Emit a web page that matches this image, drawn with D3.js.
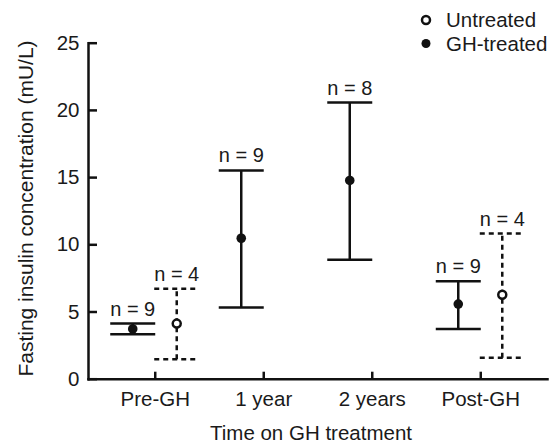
<!DOCTYPE html>
<meta charset="utf-8">
<style>
    body { margin: 0; background: #fff; }
    text { font-family: "Liberation Sans", Arial, sans-serif; fill: #1a1a1a; }
    .axis path, .axis line { stroke: #111; stroke-width: 2.5px; }
    .axis text { font-size: 20.5px; }
    .bar { stroke: #111; stroke-width: 2.5px; fill: none; }
    .dashed { stroke-dasharray: 5,4; }
</style>
<svg width="558" height="446"></svg>
<script src="https://cdn.jsdelivr.net/npm/d3@7"></script>
<script>

    // data
    var categories = ["Pre-GH", "1 year", "2 years", "Post-GH"];

    var ghCats = ["Pre-GH", "1 year", "2 years", "Post-GH"],
        ghMean = [3.7, 10.45, 14.75, 5.55],
        ghLow  = [3.3, 5.3, 8.85, 3.7],
        ghHigh = [4.1, 15.5, 20.55, 7.25],
        ghN    = [9, 9, 8, 9];

    var untCats = ["Pre-GH", "Post-GH"],
        untMean = [4.1, 6.25],
        untLow  = [1.45, 1.55],
        untHigh = [6.7, 10.8],
        untN    = [4, 4];

    var yTicks = [0, 5, 10, 15, 20, 25];

    var svg = d3.select("svg"),
        plotLeft = 88, plotRight = 547, plotTop = 42.7, plotBottom = 378.7;

    var x = d3.scalePoint().domain(categories).range([plotLeft, plotRight]).padding(0.615),
        y = d3.scaleLinear().domain([0, 25]).range([plotBottom, plotTop]),
        offset = d3.scalePoint().domain(["gh", "untreated"]).range([-22, 22]);

    var capHalf = 22.5;

    // axes
    svg.append("g")
        .attr("class", "axis axis--x")
        .attr("transform", "translate(0," + plotBottom + ")")
        .call(d3.axisBottom(x).tickSizeInner(-7).tickSizeOuter(0).tickPadding(13));

    svg.append("g")
        .attr("class", "axis axis--y")
        .attr("transform", "translate(" + plotLeft + ",0)")
        .call(d3.axisLeft(y).tickValues(yTicks).tickSizeInner(-9).tickSizeOuter(0).tickPadding(8.5));

    svg.selectAll(".axis path").attr("stroke-linecap", "square");

    // axis titles
    svg.append("text")
        .attr("x", 311)
        .attr("y", 440)
        .attr("text-anchor", "middle")
        .style("font-size", "20.5px")
        .text("Time on GH treatment");

    svg.append("text")
        .attr("transform", "translate(33,208.5) rotate(-90)")
        .attr("text-anchor", "middle")
        .style("font-size", "21px")
        .text("Fasting insulin concentration (mU/L)");

    var gh = ghCats.map(function(c, i) {
        return {cat: c, mean: ghMean[i], low: ghLow[i], high: ghHigh[i], n: ghN[i], group: "gh"};
    });
    var unt = untCats.map(function(c, i) {
        return {cat: c, mean: untMean[i], low: untLow[i], high: untHigh[i], n: untN[i], group: "untreated"};
    });

    function cx(d) { return x(d.cat) + offset(d.group); }

    function drawBars(data, dashed) {
        var g = svg.append("g").selectAll("g")
            .data(data)
            .enter().append("g");

        var cls = dashed ? "bar dashed" : "bar";

        g.append("line")
            .attr("class", cls)
            .attr("x1", cx).attr("x2", cx)
            .attr("y1", function(d) { return y(d.low); })
            .attr("y2", function(d) { return y(d.high); });

        g.append("line")
            .attr("class", cls)
            .attr("x1", function(d) { return cx(d) - capHalf; })
            .attr("x2", function(d) { return cx(d) + capHalf; })
            .attr("y1", function(d) { return y(d.high); })
            .attr("y2", function(d) { return y(d.high); });

        g.append("line")
            .attr("class", cls)
            .attr("x1", function(d) { return cx(d) - capHalf; })
            .attr("x2", function(d) { return cx(d) + capHalf; })
            .attr("y1", function(d) { return y(d.low); })
            .attr("y2", function(d) { return y(d.low); });

        g.append("text")
            .attr("x", cx)
            .attr("y", function(d) { return y(d.high) - 8; })
            .attr("text-anchor", "middle")
            .style("font-size", "20px")
            .text(function(d) { return "n = " + d.n; });

        return g;
    }

    drawBars(gh, false).append("circle")
        .attr("cx", cx)
        .attr("cy", function(d) { return y(d.mean); })
        .attr("r", 4.8)
        .attr("fill", "#111");

    drawBars(unt, true).append("circle")
        .attr("cx", cx)
        .attr("cy", function(d) { return y(d.mean); })
        .attr("r", 4)
        .attr("fill", "#fff")
        .attr("stroke", "#111")
        .attr("stroke-width", 2.5);

    // legend
    var legend = svg.append("g");
    legend.append("circle")
        .attr("cx", 426).attr("cy", 20).attr("r", 4)
        .attr("fill", "#fff").attr("stroke", "#111").attr("stroke-width", 2.5);
    legend.append("circle")
        .attr("cx", 426).attr("cy", 43.5).attr("r", 4.5)
        .attr("fill", "#111");
    legend.append("text")
        .attr("x", 446).attr("y", 26.7)
        .style("font-size", "20.5px")
        .text("Untreated");
    legend.append("text")
        .attr("x", 446).attr("y", 50.7)
        .style("font-size", "20.5px")
        .text("GH-treated");

</script>
